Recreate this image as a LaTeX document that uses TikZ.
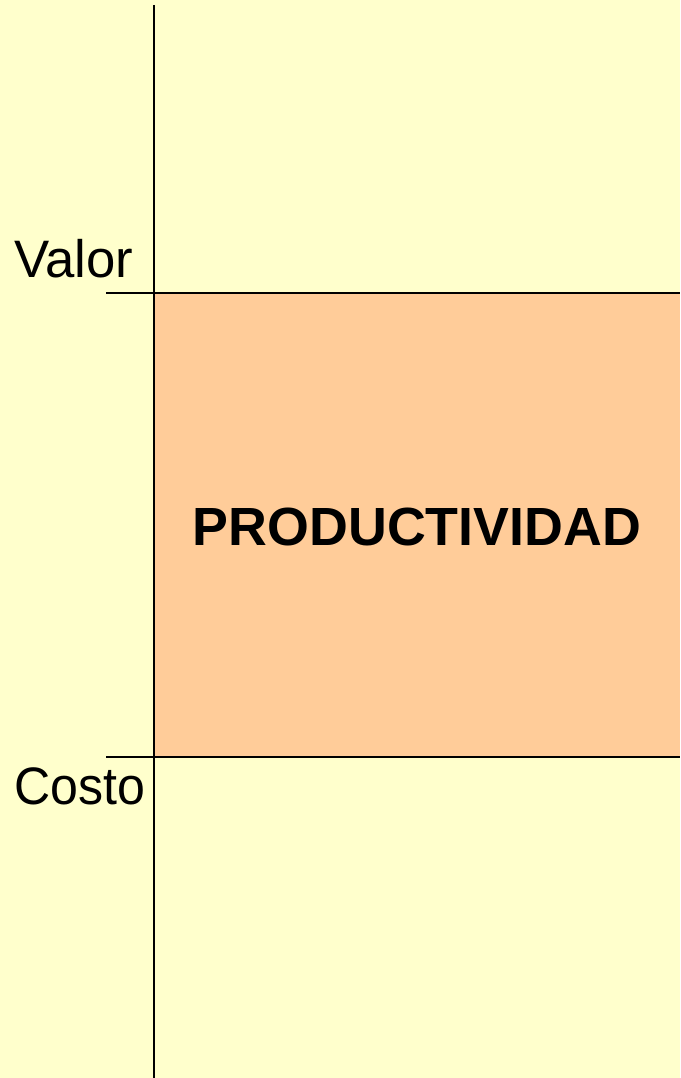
\documentclass[tikz,border=0pt]{standalone}
\usepackage{fontspec}
\setmainfont{Liberation Sans}
\definecolor{fondo}{HTML}{FFFFCC}
\definecolor{naranja}{HTML}{FFCC99}
\tikzset{etiqueta/.style={anchor=base west, inner sep=0pt, font=\fontsize{30}{36}\selectfont}}
\begin{document}
\begin{tikzpicture}[x=0.02cm, y=-0.02cm]

\fill[fondo] (0, 0) rectangle (680, 1078);
\useasboundingbox (0, 0) rectangle (680, 1078);

\fill[naranja] (154, 293) rectangle (680, 757);

\coordinate (arriba) at (154, 5);
\coordinate (abajo) at (154, 1078);
\coordinate (v0) at (106, 293);
\coordinate (v1) at (680, 293);
\coordinate (c0) at (106, 757);
\coordinate (c1) at (680, 757);

\draw[thick] (arriba) -- (abajo);
\draw[thick] (v0) -- (v1);
\draw[thick] (c0) -- (c1);

\node[etiqueta] (valor) at (14, 277) {Valor};
\node[etiqueta] (costo) at (14, 804) {\scalebox{0.95}[1]{Costo}};
\node[font=\fontsize{30.6}{36}\selectfont\bfseries] (prod) at (417, 527) {PRODUCTIVIDAD};

\end{tikzpicture}
\end{document}
